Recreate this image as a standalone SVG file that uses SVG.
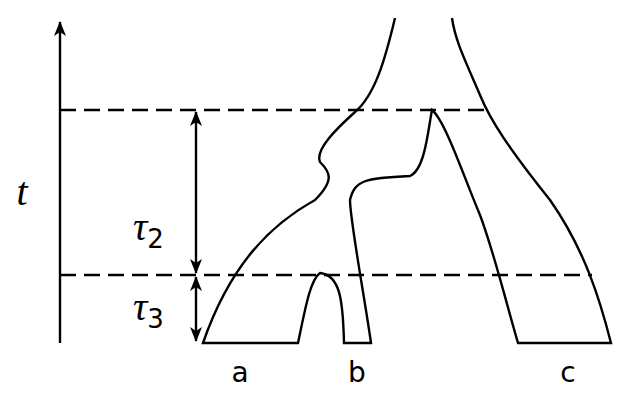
<svg xmlns="http://www.w3.org/2000/svg" width="631" height="409" viewBox="0 0 631 409">
<defs>
<marker id="ah" markerWidth="16" markerHeight="14" refX="14" refY="6" orient="auto-start-reverse" markerUnits="userSpaceOnUse"><path d="M0,0 L15,6 L0,12 L4,6 Z" fill="#000"/></marker>
<style>
.l{fill:none;stroke:#000;stroke-width:2.4}
.d{fill:none;stroke:#000;stroke-width:2.4;stroke-dasharray:16,8}
.t{font-family:"DejaVu Sans",sans-serif;font-size:28px;text-anchor:middle}
.g{font-family:"Liberation Serif",serif;font-style:italic;font-size:40px}
</style>
</defs>
<rect width="631" height="409" fill="#fff"/>
<g id="connectors">
<line class="l" x1="60" y1="343" x2="60" y2="22" marker-end="url(#ah)"/>
<line class="d" x1="60" y1="110" x2="485" y2="110"/>
<line class="d" x1="60" y1="275" x2="592" y2="275"/>
<line class="l" x1="196" y1="112" x2="196" y2="273" marker-start="url(#ah)" marker-end="url(#ah)"/>
<line class="l" x1="196" y1="277" x2="196" y2="341" marker-start="url(#ah)" marker-end="url(#ah)"/>
</g>
<g id="tree">
<path class="l" d="M395,18 C385,60 375,95 355,112 C335,130 315,150 320,162 C330,172 335,180 315,200 C270,225 230,265 203,343 L298,343 C305,310 310,280 320,273 C340,275 343,300 344,343 L371,343 C365,300 350,220 350,200 C355,180 365,178 410,176 C425,170 428,130 432,110 C445,120 465,180 480,215 C495,255 508,310 518,343 L611,343 C600,300 585,250 550,200 C510,150 490,120 480,95 C465,60 455,40 452,18"/>
</g>
<g id="labels">
<text x="22" y="205" class="g" text-anchor="middle">t</text>
<text x="133" y="240" class="g">τ<tspan font-size="26" dy="8" font-style="normal" font-family="DejaVu Sans,sans-serif">2</tspan></text>
<text x="133" y="320" class="g">τ<tspan font-size="26" dy="8" font-style="normal" font-family="DejaVu Sans,sans-serif">3</tspan></text>
<text x="240" y="382" class="t">a</text>
<text x="357" y="382" class="t">b</text>
<text x="568" y="382" class="t">c</text>
</g>
</svg>
